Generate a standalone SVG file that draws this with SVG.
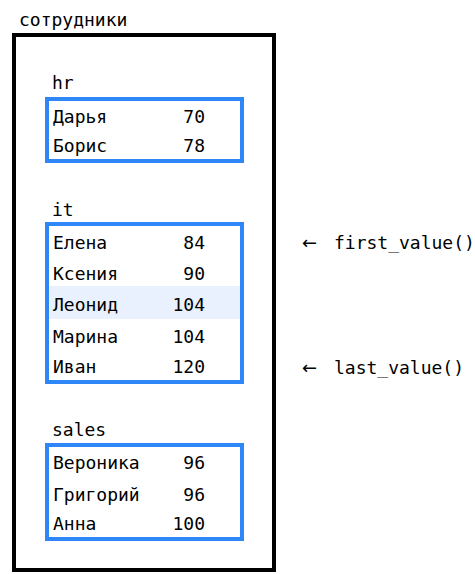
<svg xmlns="http://www.w3.org/2000/svg" width="475" height="574" viewBox="0 0 475 574">
<style>
text{font-family:"DejaVu Sans Mono","Liberation Mono",monospace;font-size:18px;fill:#000}
.grp{fill:none;stroke:#2f86f6;stroke-width:4}
.num{text-anchor:end}
.arr{font-family:"DejaVu Sans","Liberation Sans",sans-serif}
</style>
<rect width="475" height="574" fill="#fff"/>
<g id="table">
<text x="19" y="26">сотрудники</text>
<rect x="14" y="35" width="260" height="535" fill="none" stroke="#000" stroke-width="4"/>
</g>
<g id="hr">
<text x="52" y="89">hr</text>
<rect class="grp" x="47" y="99" width="195" height="62"/>
<text x="53" y="123">Дарья</text><text class="num" x="205" y="123">70</text>
<text x="53" y="152">Борис</text><text class="num" x="205" y="152">78</text>
</g>
<g id="it">
<text x="52" y="216">it</text>
<rect x="49" y="286" width="191" height="33" fill="#e8f1fd"/>
<rect class="grp" x="47" y="224" width="195" height="158"/>
<text x="53" y="249">Елена</text><text class="num" x="205" y="249">84</text>
<text x="53" y="280">Ксения</text><text class="num" x="205" y="280">90</text>
<text x="53" y="311">Леонид</text><text class="num" x="205" y="311">104</text>
<text x="53" y="343">Марина</text><text class="num" x="205" y="343">104</text>
<text x="53" y="373">Иван</text><text class="num" x="205" y="373">120</text>
</g>
<g id="sales">
<text x="52" y="436">sales</text>
<rect class="grp" x="47" y="445" width="195" height="94"/>
<text x="53" y="469">Вероника</text><text class="num" x="205" y="469">96</text>
<text x="53" y="501">Григорий</text><text class="num" x="205" y="501">96</text>
<text x="53" y="530">Анна</text><text class="num" x="205" y="530">100</text>
</g>
<g id="connectors">
<text y="249"><tspan x="302" class="arr">←</tspan><tspan x="334">first_value()</tspan></text>
<text y="374"><tspan x="302" class="arr">←</tspan><tspan x="334">last_value()</tspan></text>
</g>
</svg>
